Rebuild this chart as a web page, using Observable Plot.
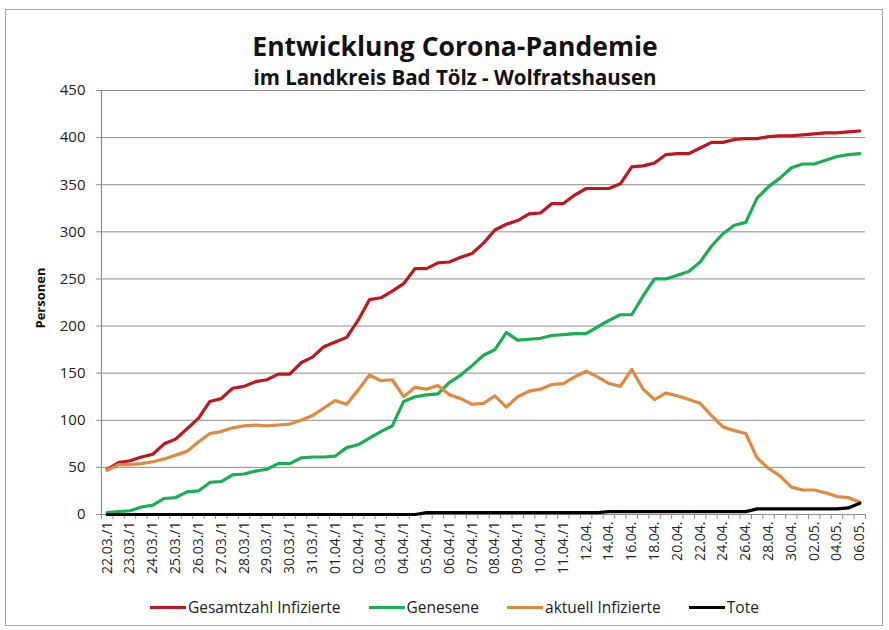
<!DOCTYPE html>
<html>
<head>
<meta charset="utf-8">
<script src="https://cdn.jsdelivr.net/npm/d3@7"></script>
<script src="https://cdn.jsdelivr.net/npm/@observablehq/plot@0.6"></script>
<style>
  html, body { margin: 0; padding: 0; background: #fff; }
  #wrap { position: relative; width: 889px; height: 630px; overflow: hidden; font-family: "Open Sans", sans-serif; color: #222; }
  #frame { position: absolute; left: 5px; top: 9px; width: 878px; height: 617px; border: 1px solid #a6a6a6; box-sizing: border-box; }
  #chart { position: absolute; left: 0; top: 0; }
  .title { position: absolute; left: 0; width: 910px; text-align: center; font-weight: bold; line-height: 1; white-space: nowrap; color: #111; }
  #t1 { top: 33px; font-size: 26.5px; }
  #t2 { top: 67px; font-size: 20.5px; }
  #ylab { position: absolute; left: 40px; top: 298px; transform: translate(-50%, -50%) rotate(-90deg); font-weight: bold; font-size: 13px; white-space: nowrap; color: #111; }
  #legend { position: absolute; left: 150px; top: 597px; display: flex; gap: 28px; font-size: 15.5px; line-height: 20px; color: #222; white-space: nowrap; }
  .item { display: flex; align-items: center; }
  .sw { width: 36px; height: 3px; margin-right: 2px; }
</style>
</head>
<body>
<div id="wrap">
  <div id="frame"></div>
  <div id="chart"></div>
  <div class="title" id="t1">Entwicklung Corona-Pandemie</div>
  <div class="title" id="t2">im Landkreis Bad Tölz - Wolfratshausen</div>
  <div id="ylab">Personen</div>
  <div id="legend"></div>
</div>
<script>
// Categories (two reports per day until 11.04., then one per day)
const categories = [
  "22.03./1","22.03./2","23.03./1","23.03./2","24.03./1","24.03./2","25.03./1","25.03./2",
  "26.03./1","26.03./2","27.03./1","27.03./2","28.03./1","28.03./2","29.03./1","29.03./2",
  "30.03./1","30.03./2","31.03./1","31.03./2","01.04./1","01.04./2","02.04./1","02.04./2",
  "03.04./1","03.04./2","04.04./1","04.04./2","05.04./1","05.04./2","06.04./1","06.04./2",
  "07.04./1","07.04./2","08.04./1","08.04./2","09.04./1","09.04./2","10.04./1","10.04./2",
  "11.04./1","11.04./2",
  "12.04.","13.04.","14.04.","15.04.","16.04.","17.04.","18.04.","19.04.","20.04.","21.04.",
  "22.04.","23.04.","24.04.","25.04.","26.04.","27.04.","28.04.","29.04.","30.04.",
  "01.05.","02.05.","03.05.","04.05.","05.05.","06.05."
];

const gesamt = [48,55,57,61,64,75,80,91,102,120,
  123,134,136,141,143,149,149,161,167,178,
  183,188,206,228,230,237,245,261,261,267,
  268,273,277,288,302,308,312,319,320,330,
  330,339,346,346,346,351,369,370,373,382,
  383,383,389,395,395,398,399,399,401,402,
  402,403,404,405,405,406,407];

const genesene = [2,3,4,8,10,17,18,24,25,34,
  35,42,43,46,48,54,54,60,61,61,
  62,71,74,81,88,94,120,125,127,128,
  140,148,158,169,175,193,185,186,187,190,
  191,192,192,199,206,212,212,232,250,250,
  254,258,268,285,298,307,310,336,348,357,
  368,372,372,376,380,382,383];

const aktuell = [47,53,53,54,56,59,63,67,77,86,
  88,92,94,95,94,95,96,100,105,113,
  121,117,132,148,142,143,125,135,133,137,
  127,123,117,118,126,114,125,131,133,138,
  139,146,152,146,139,136,154,133,122,129,
  126,122,118,105,93,89,86,60,49,41,
  29,26,26,23,19,18,13];

const tote = [0,0,0,0,0,0,0,0,0,0,
  0,0,0,0,0,0,0,0,0,0,
  0,0,0,0,0,0,0,0,2,2,
  2,2,2,2,2,2,2,2,2,2,
  2,2,2,2,3,3,3,3,3,3,
  3,3,3,3,3,3,3,6,6,6,
  6,6,6,6,6,7,12];

const seriesNames = ["Gesamtzahl Infizierte", "Genesene", "aktuell Infizierte", "Tote"];
const seriesColors = ["#C0161E", "#19AF52", "#E0893F", "#000000"];
const yTicks = [0, 50, 100, 150, 200, 250, 300, 350, 400, 450];

const seriesValues = [gesamt, genesene, aktuell, tote];
const rows = [];
seriesValues.forEach((vals, s) => vals.forEach((v, i) => rows.push({i, series: seriesNames[s], value: v})));

const labelIdx = categories.map((c, i) => i).filter(i => i % 2 === 0);
const boundaries = d3.range(categories.length + 1).map(i => i - 0.5);

const chart = Plot.plot({
  width: 889,
  height: 600,
  marginLeft: 101,
  marginRight: 24,
  marginTop: 90,
  marginBottom: 86,
  style: {fontFamily: "Open Sans, sans-serif", fontSize: "15px", color: "#222", background: "transparent", overflow: "visible"},
  x: {type: "linear", domain: [-0.5, categories.length - 0.5]},
  y: {domain: [0, 450]},
  color: {domain: seriesNames, range: seriesColors},
  marks: [
    Plot.gridY(yTicks, {stroke: "#8e8e8e", strokeOpacity: 1, strokeWidth: 1}),
    Plot.ruleX([-0.5], {stroke: "#8e8e8e", strokeWidth: 1.2}),
    Plot.ruleY([0], {stroke: "#8e8e8e", strokeWidth: 1.2}),
    Plot.axisY(yTicks, {tickSize: 5, tickPadding: 11, stroke: "#8e8e8e", fill: "#222", fontSize: 15, label: null}),
    Plot.axisX(boundaries, {tickSize: 5, tickFormat: () => "", stroke: "#8e8e8e", label: null}),
    Plot.axisX(labelIdx, {tickSize: 0, tickPadding: 7, tickRotate: -90, tickFormat: i => categories[i], fontSize: 14, fill: "#222", label: null}),
    Plot.line(rows, {x: "i", y: "value", z: "series", stroke: "series", strokeWidth: 3.2, strokeLinejoin: "round", strokeLinecap: "round"})
  ]
});
document.getElementById("chart").appendChild(chart);

const legend = document.getElementById("legend");
seriesNames.forEach((name, k) => {
  const item = document.createElement("div");
  item.className = "item";
  const sw = document.createElement("span");
  sw.className = "sw";
  sw.style.background = seriesColors[k];
  const tx = document.createElement("span");
  tx.textContent = name;
  item.appendChild(sw);
  item.appendChild(tx);
  legend.appendChild(item);
});
</script>
</body>
</html>
